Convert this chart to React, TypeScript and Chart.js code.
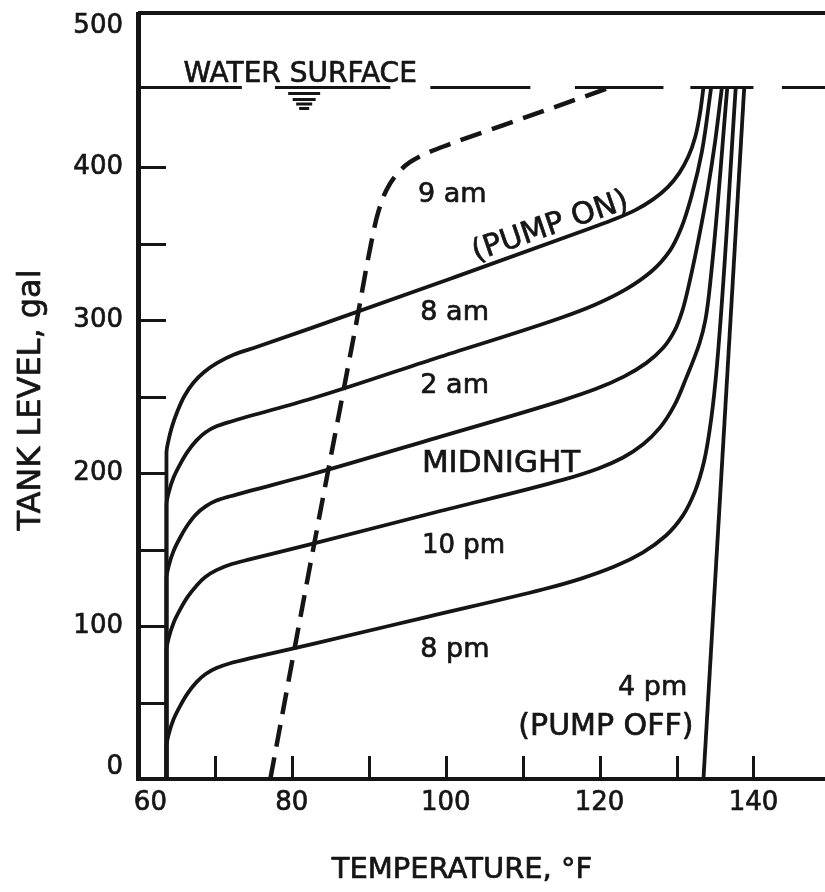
import React, { useEffect, useRef } from 'react';
import { Chart, registerables } from 'chart.js';

Chart.register(...registerables);

const INK = '#151515';
const FONT = '"DejaVu Sans", "Liberation Sans", sans-serif';

// Axis ticks
const tempLabelTicks = [60, 80, 100, 120, 140];
const tempMarkTicks = [70, 80, 90, 100, 110, 120, 130, 140];
const levelLabelTicks = [0, 100, 200, 300, 400, 500];
const levelMarkTicks = [50, 100, 150, 200, 250, 300, 350, 400];

// Temperature profiles: [temperature °F, tank level gal]
const profile8am: [number, number][] = [
  [63.7, 0], [63.7, 213], [63.95, 221], [64.4, 230], [65.1, 240], [66.0, 250], [67.2, 259],
  [68.6, 266], [70.3, 272], [72.5, 277.5], [75.5, 282.5], [82.4, 294.5], [100.6, 327], [118.8, 360],
  [122.0, 366], [124.7, 372], [127.0, 379], [128.9, 387], [130.35, 396], [131.55, 407],
  [132.45, 420], [133.05, 435], [133.5, 452],
];
const profile2am: [number, number][] = [
  [63.7, 0], [63.7, 179], [63.98, 187], [64.62, 197], [65.5, 206], [66.45, 214], [67.55, 221],
  [68.75, 226.5], [70.2, 230.5], [72.0, 233.5], [82.5, 248.5], [98.7, 275], [115.0, 301.5],
  [119.4, 310], [123.4, 320], [126.8, 332], [129.1, 345], [130.6, 360], [132.0, 382],
  [133.3, 410], [134.5, 452],
];
const profileMidnight: [number, number][] = [
  [63.7, 0], [63.7, 131], [63.98, 139], [64.62, 149], [65.5, 158], [66.45, 166], [67.55, 173],
  [68.75, 178], [70.2, 182], [72.0, 184.8], [82.5, 199], [98.8, 223], [115.2, 247.5],
  [119.55, 255], [123.15, 263], [126.1, 272], [128.3, 282], [129.75, 293], [130.75, 306],
  [131.7, 325], [132.95, 355], [134.05, 385], [135.0, 416], [135.9, 452],
];
const profile10pm: [number, number][] = [
  [63.7, 0], [63.7, 84], [63.98, 92], [64.62, 102], [65.5, 111], [66.45, 119], [67.55, 126],
  [68.75, 132], [70.2, 136.5], [72.2, 140.5], [74.5, 143.5], [82.5, 153.5], [98.8, 174.5],
  [115.2, 195.5], [119.85, 203], [123.0, 210], [125.7, 219], [127.9, 230], [129.7, 244],
  [131.25, 262], [133.0, 285], [133.75, 300], [134.5, 330], [136.6, 452],
];
const profile8pm: [number, number][] = [
  [63.7, 0], [63.7, 21], [63.98, 29], [64.62, 39], [65.5, 48], [66.45, 56], [67.55, 63],
  [68.75, 68.5], [70.2, 72.5], [72.2, 76], [74.5, 78.8], [82.5, 88], [97.6, 106], [112.7, 124],
  [117.6, 131], [122.0, 139], [125.6, 148], [128.6, 159], [130.8, 172], [132.4, 188],
  [133.6, 208], [134.5, 235], [135.25, 270], [137.7, 452],
];
const profile4pm: [number, number][] = [
  [133.5, 0], [138.8, 452],
];
const profile9am: [number, number][] = [
  [77.2, 0], [82.5, 143], [88.45, 300], [90.3, 350], [91.2, 370], [92.3, 385], [93.6, 395],
  [95.3, 403], [97.5, 409], [100.3, 414.5], [110.8, 433.2], [121.4, 452],
];

// Water surface (gal) and the temperature spans of its broken line
const waterLevel = 452;
const waterSpans: [number, number][] = [
  [60, 73.5], [77.8, 92.8], [98.0, 111.0], [116.8, 128.3], [131.8, 140.0], [143.7, 149.3],
];

// Text annotations placed in data coordinates
const annotations = [
  { text: 'WATER SURFACE', t: 65.9, lvl: 455.6, size: 28, align: 'left', rot: 0 },
  { text: '9 am', t: 96.4, lvl: 377, size: 27, align: 'left', rot: 0 },
  { text: '(PUMP ON)', t: 113.6, lvl: 360.8, size: 30, align: 'center', rot: -19 },
  { text: '8 am', t: 96.7, lvl: 300, size: 27, align: 'left', rot: 0 },
  { text: '2 am', t: 96.7, lvl: 252, size: 27, align: 'left', rot: 0 },
  { text: 'MIDNIGHT', t: 96.9, lvl: 200.7, size: 31, align: 'left', rot: 0 },
  { text: '10 pm', t: 96.9, lvl: 147.7, size: 26, align: 'left', rot: 0 },
  { text: '8 pm', t: 96.7, lvl: 79.7, size: 27, align: 'left', rot: 0 },
  { text: '4 pm', t: 131.4, lvl: 54.9, size: 27, align: 'right', rot: 0 },
  { text: '(PUMP OFF)', t: 132.2, lvl: 28.8, size: 30, align: 'right', rot: 0 },
];
const waterSymbolAt = { t: 81.6, lvl: 448 };

const xTitle = 'TEMPERATURE, °F';
const yTitle = 'TANK LEVEL, gal';

const toPts = (arr: [number, number][]) => arr.map(([t, l]) => ({ x: t, y: l }));

function heavyText(ctx: CanvasRenderingContext2D, text: string, x: number, y: number) {
  ctx.fillText(text, x, y);
  ctx.strokeText(text, x, y);
}

const overlayPlugin = {
  id: 'overlay',
  afterDatasetsDraw(chart: any) {
    const { ctx, chartArea, scales } = chart;
    const xs = scales.x;
    const ys = scales.y;
    ctx.save();
    ctx.strokeStyle = INK;
    ctx.fillStyle = INK;
    ctx.lineCap = 'butt';

    // top frame line
    ctx.lineWidth = 4;
    ctx.beginPath();
    ctx.moveTo(chartArea.left, chartArea.top - 1);
    ctx.lineTo(chartArea.right, chartArea.top - 1);
    ctx.stroke();

    // inward tick marks
    ctx.lineWidth = 3;
    ctx.beginPath();
    for (const v of tempMarkTicks) {
      const px = Math.round(xs.getPixelForValue(v)) + 0.5;
      ctx.moveTo(px, chartArea.bottom);
      ctx.lineTo(px, chartArea.bottom - 23);
    }
    for (const v of levelMarkTicks) {
      const py = Math.round(ys.getPixelForValue(v)) + 0.5;
      ctx.moveTo(chartArea.left, py);
      ctx.lineTo(chartArea.left + 28, py);
    }
    ctx.stroke();

    // water surface symbol
    const sx = xs.getPixelForValue(waterSymbolAt.t);
    const sy = ys.getPixelForValue(waterSymbolAt.lvl);
    const bars = [[32, 0], [23, 6], [16, 10.5], [10, 15]];
    ctx.lineWidth = 3;
    ctx.beginPath();
    for (const [w, dy] of bars) {
      ctx.moveTo(sx - w / 2, sy + dy);
      ctx.lineTo(sx + w / 2, sy + dy);
    }
    ctx.stroke();

    // annotations
    ctx.lineWidth = 0.7;
    ctx.lineJoin = 'round';
    for (const a of annotations) {
      const px = xs.getPixelForValue(a.t);
      const py = ys.getPixelForValue(a.lvl);
      ctx.font = `${a.size}px ${FONT}`;
      if (a.rot) {
        ctx.save();
        ctx.translate(px, py);
        ctx.rotate((a.rot * Math.PI) / 180);
        ctx.textAlign = 'center';
        ctx.textBaseline = 'middle';
        heavyText(ctx, a.text, 0, 0);
        ctx.restore();
      } else {
        ctx.textAlign = a.align as CanvasTextAlign;
        ctx.textBaseline = 'alphabetic';
        heavyText(ctx, a.text, px, py);
      }
    }

    // axis titles
    ctx.font = `29px ${FONT}`;
    ctx.textAlign = 'center';
    ctx.textBaseline = 'alphabetic';
    heavyText(ctx, xTitle, 462, 878);

    ctx.save();
    ctx.translate(40, 400);
    ctx.rotate(-Math.PI / 2);
    ctx.font = `32px ${FONT}`;
    ctx.textAlign = 'center';
    ctx.textBaseline = 'alphabetic';
    heavyText(ctx, yTitle, 0, 0);
    ctx.restore();

    ctx.restore();
  },
};

export default function App() {
  const canvasRef = useRef<HTMLCanvasElement | null>(null);

  useEffect(() => {
    const canvas = canvasRef.current;
    if (!canvas) return;

    const waterData: any[] = [];
    for (const [a, b] of waterSpans) {
      waterData.push({ x: a, y: waterLevel }, { x: b, y: waterLevel }, { x: null, y: waterLevel });
    }

    const solid = (label: string, arr: [number, number][]) => ({
      label,
      data: toPts(arr),
      borderColor: INK,
      borderWidth: 3.8,
      pointRadius: 0,
      fill: false,
      cubicInterpolationMode: 'monotone' as const,
    });

    const chart = new Chart(canvas, {
      type: 'line',
      data: {
        datasets: [
          {
            label: 'Water surface',
            data: waterData,
            borderColor: INK,
            borderWidth: 3,
            pointRadius: 0,
            fill: false,
            tension: 0,
            spanGaps: false,
          },
          solid('8 am', profile8am),
          solid('2 am', profile2am),
          solid('Midnight', profileMidnight),
          solid('10 pm', profile10pm),
          solid('8 pm', profile8pm),
          solid('4 pm', profile4pm),
          {
            label: '9 am',
            data: toPts(profile9am),
            borderColor: INK,
            borderWidth: 4.5,
            borderDash: [22, 11],
            pointRadius: 0,
            fill: false,
            cubicInterpolationMode: 'monotone' as const,
          },
        ],
      },
      options: {
        animation: false,
        responsive: false,
        maintainAspectRatio: false,
        indexAxis: 'y',
        events: [],
        layout: { padding: { top: 14, left: 0, right: 0, bottom: 0 } },
        plugins: {
          legend: { display: false },
          tooltip: { enabled: false },
          title: { display: false },
        },
        scales: {
          x: {
            type: 'linear',
            position: 'bottom',
            min: 60,
            max: 149.3,
            afterFit: (s: any) => {
              s.height = 113;
              s.paddingLeft = 0;
              s.paddingRight = 0;
            },
            grid: { display: false, drawTicks: false },
            border: { display: true, color: INK, width: 4 },
            ticks: {
              stepSize: 20,
              includeBounds: false,
              autoSkip: false,
              maxRotation: 0,
              color: INK,
              padding: 9,
              textStrokeColor: INK,
              textStrokeWidth: 0.7,
              font: { family: FONT, size: 26 },
              callback: (v: any) => {
                const n = Number(v);
                if (!tempLabelTicks.includes(n)) return '';
                return n === 60 ? '   60' : String(n);
              },
            },
          },
          y: {
            type: 'linear',
            position: 'left',
            min: 0,
            max: 500,
            afterFit: (s: any) => {
              s.width = 138;
              s.paddingTop = 0;
              s.paddingBottom = 0;
            },
            grid: { display: false, drawTicks: false },
            border: { display: true, color: INK, width: 5 },
            ticks: {
              stepSize: 100,
              autoSkip: false,
              color: INK,
              padding: 15,
              textStrokeColor: INK,
              textStrokeWidth: 0.7,
              font: { family: FONT, size: 26, lineHeight: 0.92 },
              callback: (v: any) => {
                const n = Number(v);
                if (!levelLabelTicks.includes(n)) return '';
                if (n === 500) return ['', '500'];
                if (n === 0) return ['0', ''];
                return String(n);
              },
            },
          },
        },
      } as any,
      plugins: [overlayPlugin],
    });

    return () => chart.destroy();
  }, []);

  return (
    <div style={{ position: 'absolute', left: 0, top: 0, width: 825, height: 892, background: '#fff' }}>
      <canvas ref={canvasRef} width={825} height={892} style={{ display: 'block' }} />
    </div>
  );
}
